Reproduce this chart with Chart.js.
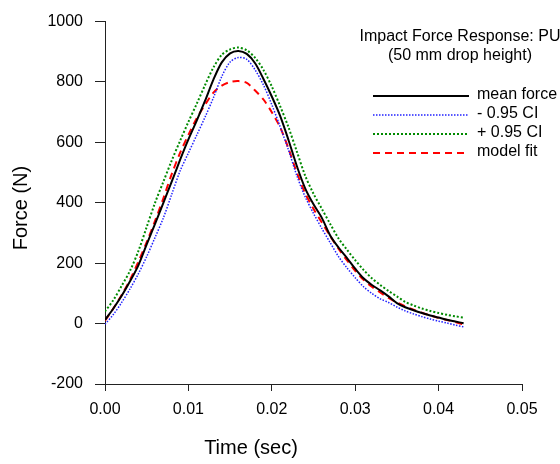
<!DOCTYPE html>
<html>
<head>
<meta charset="utf-8">
<script src="https://cdn.jsdelivr.net/npm/chart.js@4.4.0/dist/chart.umd.min.js"></script>
<style>
    body { margin: 0; background: #fff; }
    #wrap { width: 560px; height: 464px; position: relative; }
</style>
</head>
<body>
<div id="wrap"><canvas id="impact-force"></canvas></div>
<script>
// Time samples (sec)
const times = [
    0.000, 0.001, 0.002, 0.003, 0.004, 0.005, 0.006, 0.007, 0.008, 0.009,
    0.010, 0.011, 0.012, 0.013, 0.014, 0.015, 0.016, 0.017, 0.018, 0.019,
    0.020, 0.021, 0.022, 0.023, 0.024, 0.025, 0.026, 0.027, 0.028, 0.029,
    0.030, 0.031, 0.032, 0.033, 0.034, 0.035, 0.036, 0.037, 0.038, 0.039,
    0.040, 0.041, 0.042, 0.043
];
// Force (N)
const meanForce = [
    12, 50, 92, 140, 193, 262, 330, 400, 470, 542,
    610, 672, 738, 808, 865, 895, 903, 893, 862, 810,
    752, 688, 608, 522, 448, 395, 350, 292, 252, 218,
    182, 150, 128, 110, 90, 68, 54, 44, 35, 27,
    20, 13, 7, 1
];
const lowerCI = [
    -2, 30, 70, 115, 165, 222, 285, 350, 428, 505,
    565, 624, 684, 748, 818, 866, 881, 875, 840, 790,
    725, 652, 575, 490, 420, 365, 315, 268, 222, 185,
    152, 122, 100, 82, 70, 55, 42, 32, 23, 15,
    8, 2, -5, -11
];
const upperCI = [
    40, 78, 125, 175, 240, 320, 400, 470, 540, 605,
    668, 728, 790, 848, 890, 908, 914, 905, 880, 840,
    785, 720, 650, 570, 490, 430, 380, 330, 282, 245,
    210, 178, 150, 128, 108, 90, 72, 60, 50, 42,
    35, 29, 24, 20
];
const modelFit = [
    10, 50, 95, 145, 205, 270, 340, 415, 495, 565,
    625, 680, 725, 765, 788, 800, 803, 797, 772, 742,
    700, 650, 580, 500, 432, 380, 335, 290, 248, 210,
    175, 145, 122, 103, 85, 70, 57, 46, 36, 27,
    19, 12, 5, -3
];
const xTicks = [0, 0.01, 0.02, 0.03, 0.04, 0.05];
const yTicks = [-200, 0, 200, 400, 600, 800, 1000];

const FONT = "Liberation Sans, Arial, sans-serif";

const toPoints = (ys) => ys.map((y, i) => ({ x: times[i], y: y }));

const series = [
    { label: "mean force", data: meanForce, color: "#000000", width: 2, dash: [] },
    { label: "- 0.95 CI", data: lowerCI, color: "#2020ff", width: 1.5, dash: [1.5, 1.5] },
    { label: "+ 0.95 CI", data: upperCI, color: "#008a00", width: 2, dash: [2, 2] },
    { label: "model fit", data: modelFit, color: "#ff0000", width: 2, dash: [7, 5] },
];

// Title, legend and axis titles drawn on top
const overlay = {
    id: "overlay",
    afterDraw: (chart) => {
        const ctx = chart.ctx;
        ctx.save();
        ctx.fillStyle = "#000";
        ctx.font = `16px ${FONT}`;
        ctx.textAlign = "center";
        ctx.textBaseline = "alphabetic";
        ctx.fillText("Impact Force Response: PU", 460, 41);
        ctx.fillText("(50 mm drop height)", 460, 60);

        // legend
        chart.data.datasets.forEach((ds, i) => {
            const y = 96 + i * 19;
            ctx.beginPath();
            ctx.strokeStyle = ds.borderColor;
            ctx.lineWidth = ds.borderWidth;
            ctx.setLineDash(ds.borderDash);
            ctx.moveTo(373, y);
            ctx.lineTo(469, y);
            ctx.stroke();
            ctx.setLineDash([]);
            ctx.textAlign = "left";
            ctx.fillText(ds.label, 477, y + 2.5);
        });

        // axis titles
        ctx.font = `20px ${FONT}`;
        ctx.textAlign = "center";
        ctx.textBaseline = "middle";
        ctx.fillText("Time (sec)", 251, 448);
        ctx.translate(21, 208);
        ctx.rotate(-Math.PI / 2);
        ctx.fillText("Force (N)", 0, 0);
        ctx.restore();
    },
};

const chartConfig = {
    type: "line",
    data: {
        datasets: series.map((s) => ({
            label: s.label,
            data: toPoints(s.data),
            borderColor: s.color,
            borderWidth: s.width,
            borderDash: s.dash,
            pointRadius: 0,
            fill: false,
            tension: 0.3,
        })),
    },
    options: {
        responsive: true,
        maintainAspectRatio: false,
        animation: false,
        layout: {
            padding: { left: 0, right: 38, top: 17, bottom: 0 },
        },
        scales: {
            x: {
                type: "linear",
                min: 0,
                max: 0.05,
                afterBuildTicks: (scale) => {
                    scale.ticks = xTicks.map((v) => ({ value: v }));
                },
                afterFit: (scale) => {
                    scale.height = 80;
                },
                ticks: {
                    color: "#000",
                    font: { family: FONT, size: 16 },
                    padding: 9,
                    maxRotation: 0,
                    callback: (v) => v.toFixed(2),
                },
                grid: {
                    display: true,
                    drawOnChartArea: false,
                    color: "#222",
                    tickLength: 7,
                },
                border: { display: true, color: "#222", width: 1 },
            },
            y: {
                min: -200,
                max: 1000,
                afterBuildTicks: (scale) => {
                    scale.ticks = yTicks.map((v) => ({ value: v }));
                },
                afterFit: (scale) => {
                    scale.width = 105;
                },
                ticks: {
                    color: "#000",
                    font: { family: FONT, size: 16 },
                    padding: 12,
                    callback: (v) => String(v),
                },
                grid: {
                    display: true,
                    drawOnChartArea: false,
                    color: "#222",
                    tickLength: 10,
                },
                border: { display: true, color: "#222", width: 1 },
            },
        },
        plugins: {
            legend: { display: false },
            title: { display: false },
            tooltip: { enabled: false },
        },
    },
    plugins: [overlay],
};

const impactChart = new Chart(document.getElementById("impact-force"), chartConfig);
</script>
</body>
</html>
